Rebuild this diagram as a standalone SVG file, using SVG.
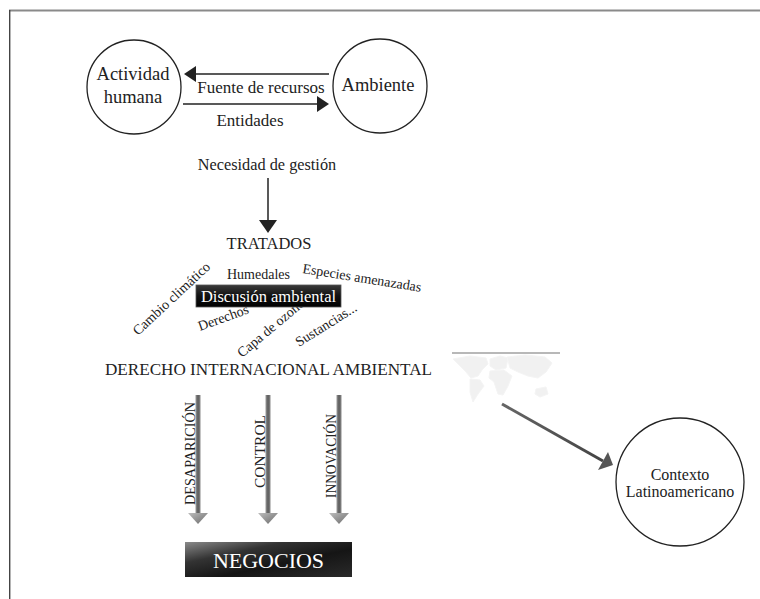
<svg xmlns="http://www.w3.org/2000/svg" width="760" height="599" viewBox="0 0 760 599" font-family="'Liberation Serif', 'Times New Roman', 'DejaVu Serif', serif">
<style>
text{font-family:'Liberation Serif','Times New Roman','DejaVu Serif',serif;fill:#222}
.node{fill:#fff;stroke:#222;stroke-width:1.3}
.lbl{font-size:14px}
.w{fill:#fff}
.conn{stroke:#222;stroke-width:1.5;fill:none}
.map{fill:#f1f1f1;stroke:#f4f4f4;stroke-width:1;stroke-linejoin:round}
</style>
<defs>
<linearGradient id="shaft" x1="0" y1="0" x2="1" y2="0">
<stop offset="0" stop-color="#9a9a9a"/><stop offset="0.5" stop-color="#5a5a5a"/><stop offset="1" stop-color="#8a8a8a"/>
</linearGradient>
<linearGradient id="head" x1="0" y1="0" x2="1" y2="1">
<stop offset="0" stop-color="#bdbdbd"/><stop offset="1" stop-color="#6a6a6a"/>
</linearGradient>
<linearGradient id="neg" x1="0" y1="0" x2="1" y2="1">
<stop offset="0" stop-color="#8a8a8a"/><stop offset="0.3" stop-color="#333"/><stop offset="0.6" stop-color="#151515"/><stop offset="1" stop-color="#2a2a2a"/>
</linearGradient>
<linearGradient id="disc" x1="0" y1="0" x2="0" y2="1">
<stop offset="0" stop-color="#3a3a3a"/><stop offset="0.5" stop-color="#111"/><stop offset="1" stop-color="#000"/>
</linearGradient>
<linearGradient id="diag" x1="0" y1="0" x2="1" y2="1">
<stop offset="0" stop-color="#666"/><stop offset="1" stop-color="#444"/>
</linearGradient>
</defs>

<g id="frame">
<line x1="9" y1="10.5" x2="760" y2="10.5" stroke="#8a8a8a" stroke-width="2"/>
<line x1="9.7" y1="10" x2="9.7" y2="599" stroke="#444" stroke-width="1.4"/>
</g>

<g id="connectors">
<line class="conn" x1="329" y1="74" x2="194" y2="74"/>
<polygon points="184,74 196,66 196,82" fill="#222"/>
<line class="conn" x1="183" y1="104" x2="318" y2="104"/>
<polygon points="329,104 317,96 317,112" fill="#222"/>
<line class="conn" x1="268" y1="178" x2="268" y2="222"/>
<polygon points="268,233 259,220 277,220" fill="#222"/>
<rect x="195.5" y="395" width="5" height="119" fill="url(#shaft)"/>
<polygon points="188,513 208,513 198,524" fill="url(#head)"/>
<rect x="265.5" y="395" width="5" height="119" fill="url(#shaft)"/>
<polygon points="258,513 278,513 268,524" fill="url(#head)"/>
<rect x="336.5" y="395" width="5" height="119" fill="url(#shaft)"/>
<polygon points="329,513 349,513 339,524" fill="url(#head)"/>
<line x1="502" y1="404" x2="603" y2="461" stroke="url(#diag)" stroke-width="3"/>
<polygon points="613,465 598,470 608,452" fill="#555"/>
</g>

<g id="actividad">
<circle class="node" cx="134" cy="87" r="47"/>
<text x="133" y="80" font-size="18.5" text-anchor="middle">Actividad</text>
<text x="133" y="103" font-size="18.5" text-anchor="middle">humana</text>
</g>

<g id="ambiente">
<circle class="node" cx="380" cy="86" r="47"/>
<text x="378" y="91" font-size="18.5" text-anchor="middle">Ambiente</text>
</g>

<g id="labels-top">
<text x="261" y="93" font-size="17" text-anchor="middle">Fuente de recursos</text>
<text x="250" y="126" font-size="17" text-anchor="middle">Entidades</text>
<text x="267" y="170" font-size="16.3" text-anchor="middle">Necesidad de gestión</text>
</g>

<g id="tratados">
<text x="269" y="249" font-size="16.5" text-anchor="middle">TRATADOS</text>
</g>

<g id="temas">
<text class="lbl" x="227" y="279">Humedales</text>
<text class="lbl" transform="translate(138,336) rotate(-43)">Cambio climático</text>
<text class="lbl" transform="translate(302,273) rotate(9)">Especies amenazadas</text>
<text class="lbl" transform="translate(200,331) rotate(-20)">Derechos</text>
<text class="lbl" transform="translate(242,358) rotate(-40)">Capa de ozono</text>
<text class="lbl" transform="translate(299,347) rotate(-32)">Sustancias...</text>
</g>

<g id="discusion">
<rect x="196" y="285" width="145" height="22" fill="url(#disc)" stroke="#555" stroke-width="0.8"/>
<text class="w" x="268.5" y="302" font-size="16.5" text-anchor="middle">Discusión ambiental</text>
</g>

<g id="derecho">
<text x="268.5" y="375" font-size="17" text-anchor="middle" textLength="327" lengthAdjust="spacingAndGlyphs">DERECHO INTERNACIONAL AMBIENTAL</text>
</g>

<g id="vlabels">
<text transform="translate(195,505) rotate(-90)" font-size="15" textLength="103" lengthAdjust="spacingAndGlyphs">DESAPARICIÓN</text>
<text transform="translate(265,488) rotate(-90)" font-size="15" textLength="73" lengthAdjust="spacingAndGlyphs">CONTROL</text>
<text transform="translate(336,498) rotate(-90)" font-size="15" textLength="84" lengthAdjust="spacingAndGlyphs">INNOVACIÓN</text>
</g>

<g id="negocios">
<rect x="185" y="542" width="167" height="35" fill="url(#neg)"/>
<text class="w" x="268.5" y="568" font-size="22" text-anchor="middle">NEGOCIOS</text>
</g>

<g id="mapa">
<line x1="452" y1="353" x2="560" y2="353" stroke="#a0a0a0" stroke-width="1.6"/>
<path class="map" d="M453,359 L470,356 L486,358 L488,364 L482,370 L478,376 L471,378 L466,372 L460,366 Z"/>
<path class="map" d="M470,379 L480,380 L484,386 L478,394 L473,402 L470,392 Z"/>
<path class="map" d="M490,359 L500,356 L508,358 L506,368 L496,370 L490,366 Z"/>
<path class="map" d="M490,371 L504,370 L512,376 L508,386 L503,395 L498,394 L494,382 L489,378 Z"/>
<path class="map" d="M507,357 L525,355 L545,357 L552,363 L546,372 L538,378 L528,376 L518,372 L510,368 Z"/>
<path class="map" d="M536,389 L546,387 L548,394 L540,397 L535,394 Z"/>
</g>

<g id="contexto">
<circle class="node" cx="680" cy="482" r="64"/>
<text x="680" y="480" font-size="16" text-anchor="middle">Contexto</text>
<text x="680" y="497" font-size="16" text-anchor="middle">Latinoamericano</text>
</g>
</svg>
